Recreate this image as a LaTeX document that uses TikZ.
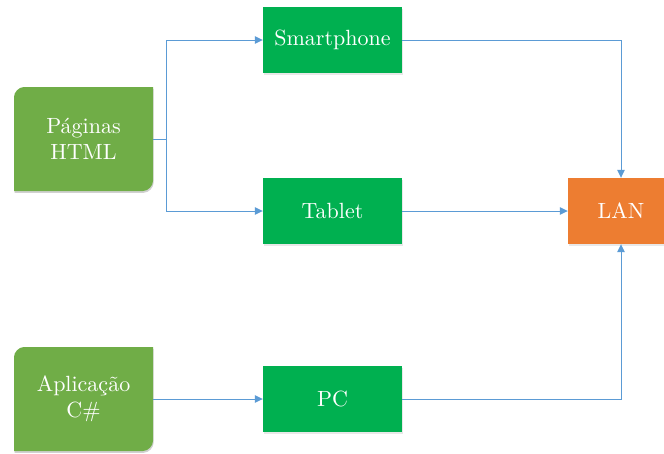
\documentclass[tikz,border=0pt]{standalone}
\usepackage{fontspec}
\setmainfont{lmroman10-regular}[Extension=.otf]
\usetikzlibrary{arrows.meta,shadows}
\definecolor{leafgreen}{HTML}{70AD47}
\definecolor{devgreen}{HTML}{00B050}
\definecolor{lanorange}{HTML}{ED7D31}
\definecolor{linkblue}{HTML}{5B9BD5}
\tikzset{
  labeltext/.style={text=white,font=\fontsize{22}{26}\selectfont,align=center,inner sep=0pt},
  device/.style={labeltext,fill=devgreen,minimum width=139pt,minimum height=66pt,
    drop shadow={opacity=0.18,shadow xshift=0.6pt,shadow yshift=-1.8pt}},
  network/.style={device,fill=lanorange,minimum width=106pt},
  source/.style={labeltext,minimum width=139pt,minimum height=104pt},
  conn/.style={draw=linkblue,line width=1pt,-{Triangle[length=8pt,width=7.5pt]}},
}
% rounded top-left and bottom-right corners, centre (#1,#2)
\newcommand{\leafshape}[3]{%
  \path[#3] ({#1-69.5},{#2+52}) -- ({#1-69.5},{#2-42})
    .. controls ({#1-69.5},{#2-46.5}) and ({#1-65},{#2-52}) .. ({#1-59.5},{#2-52})
    -- ({#1+69.5},{#2-52}) -- ({#1+69.5},{#2+42})
    .. controls ({#1+69.5},{#2+46.5}) and ({#1+65},{#2+52}) .. ({#1+59.5},{#2+52})
    -- cycle;}
\begin{document}
\begin{tikzpicture}[x=1pt,y=-1pt]
\useasboundingbox (0,0) rectangle (664,453);
% source boxes
\begin{scope}[shift={(0.6,1.8)}]
\leafshape{83.5}{139}{fill=black,fill opacity=0.18}
\leafshape{83.5}{399}{fill=black,fill opacity=0.18}
\end{scope}
\leafshape{83.5}{139}{fill=leafgreen}
\leafshape{83.5}{399}{fill=leafgreen}
\node[source] (html) at (83.5,139) {Páginas\\HTML};
\node[source] (app) at (83.5,399) {Aplicação\\C\#};
% devices and network
\node[device] (smart) at (332.5,40) {Smartphone};
\node[device] (tablet) at (332.5,211) {Tablet};
\node[device] (pc) at (332.5,399) {PC};
\node[network] (lan) at (621,211) {LAN};
% connectors
\draw[conn] (html.east) -- ++(13,0) |- (smart.west);
\draw[conn] (html.east) -- ++(13,0) |- (tablet.west);
\draw[conn] (smart.east) -| (lan.north);
\draw[conn] (tablet.east) -- (lan.west);
\draw[conn] (app.east) -- (pc.west);
\draw[conn] (pc.east) -| (lan.south);
\end{tikzpicture}
\end{document}
